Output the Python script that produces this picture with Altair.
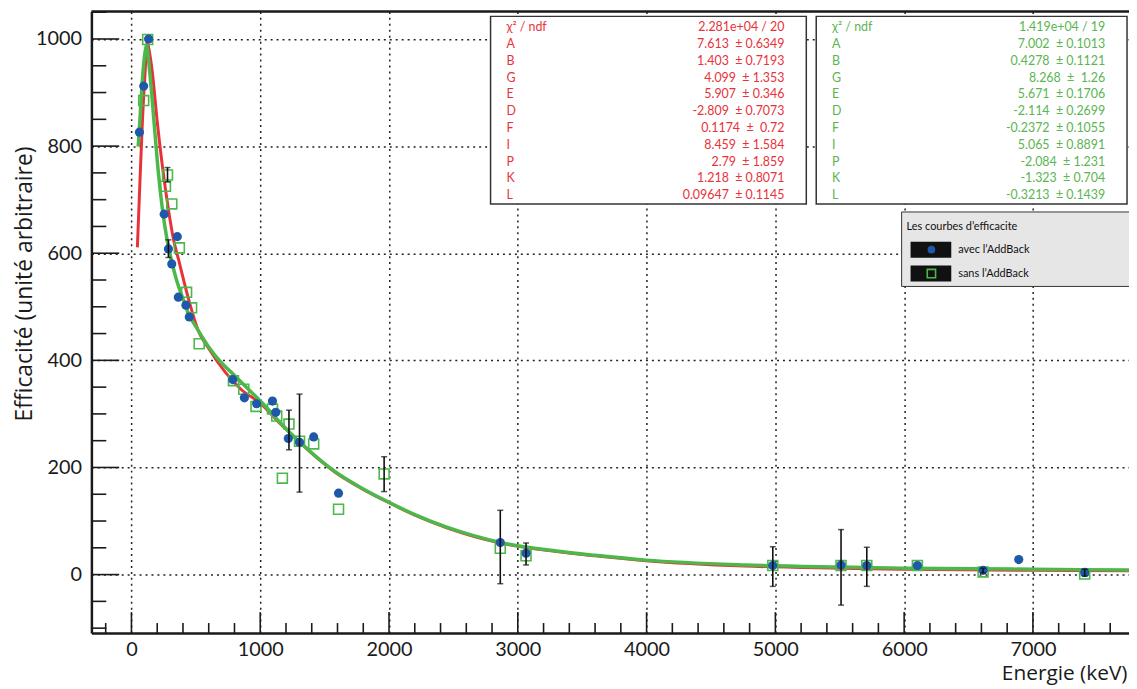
import altair as alt
import pandas as pd

# ---------------- data ----------------
avec_x = [62, 95, 133, 254, 287, 313, 356, 364, 423, 449, 787, 877, 972, 1095, 1121,
          1218, 1305, 1415, 1608, 2864, 3064, 4980, 5510, 5710, 6103, 6613, 6890, 7402]
avec_y = [826, 912, 1000, 673, 608, 580, 631, 518, 503, 481, 364, 330, 319, 324, 303,
          254, 247, 257, 152, 60, 40, 17, 18, 17, 17, 8, 28, 4]

sans_x = [95, 126, 264, 280, 313, 372, 428, 467, 526, 792, 872, 967, 1095, 1128, 1172,
          1223, 1305, 1415, 1608, 1962, 2864, 3064, 4980, 5510, 5710, 6103, 6613, 7402]
sans_y = [885, 999, 725, 746, 692, 610, 527, 498, 431, 362, 346, 314, 309, 296, 180,
          281, 249, 244, 122, 188, 49, 35, 17, 17, 17, 17, 5, 1]

err_x = [280, 287, 1223, 1305, 1962, 2864, 3064, 4980, 5510, 5710, 6613, 7402]
err_lo = [733, 592, 233, 154, 155, -17, 18, -22, -57, -22, 3, -3]
err_hi = [760, 625, 307, 337, 220, 120, 59, 52, 84, 51, 12, 10]

fit_avec_x = [46, 65, 85, 106, 123, 140, 162, 200, 239, 285, 329, 368, 410, 454, 518,
              600, 728, 850, 1010, 1150, 1293, 1450, 1576, 1800, 1992, 2200, 2454, 2864,
              3300, 3600, 3995, 4762, 5500, 6000, 7000, 7746]
fit_avec_y = [611, 728, 846, 938, 994, 975, 938, 846, 765, 685, 623, 586, 545, 505, 456,
              422, 378, 346, 318, 283, 250, 216, 192, 159, 135, 111, 87, 59,
              43, 35, 26, 16, 12, 10, 8, 7]

fit_sans_x = [52, 65, 80, 106, 116, 142, 175, 208, 239, 278, 311, 350, 400, 444, 518,
              600, 700, 787, 900, 1018, 1150, 1300, 1450, 1576, 1800, 1992, 2200, 2454,
              2864, 3300, 3600, 3995, 4762, 5500, 6000, 7000, 7746]
fit_sans_y = [799, 846, 907, 976, 988, 938, 846, 753, 685, 623, 586, 550, 515, 487, 456,
              425, 395, 375, 348, 320, 285, 249, 217, 193, 160, 136, 112, 88,
              60, 44, 36, 27, 18, 14, 12, 10, 8.5]

x_major = [0, 1000, 2000, 3000, 4000, 5000, 6000, 7000]
x_minor = [v for v in range(-200, 7800, 200) if v % 1000 != 0]
y_major = [0, 200, 400, 600, 800, 1000]
y_minor = [v for v in range(-100, 1100, 50) if v % 200 != 0]

stat_labels = ["χ² / ndf", "A", "B", "G", "E", "D", "F", "I", "P", "K", "L"]
stat_avec = ["2.281e+04 / 20", "7.613 \u00a0± 0.6349", "1.403 \u00a0± 0.7193",
             "4.099 \u00a0± 1.353", "5.907 \u00a0± 0.346", "-2.809 \u00a0± 0.7073",
             "0.1174 \u00a0± \u00a00.72", "8.459 \u00a0± 1.584", "2.79 \u00a0± 1.859",
             "1.218 \u00a0± 0.8071", "0.09647 \u00a0± 0.1145"]
stat_sans = ["1.419e+04 / 19", "7.002 \u00a0± 0.1013", "0.4278 \u00a0± 0.1121",
             "8.268 \u00a0± \u00a01.26", "5.671 \u00a0± 0.1706", "-2.114 \u00a0± 0.2699",
             "-0.2372 \u00a0± 0.1055", "5.065 \u00a0± 0.8891", "-2.084 \u00a0± 1.231",
             "-1.323 \u00a0± 0.704", "-0.3213 \u00a0± 0.1439"]

legend_title = "Les courbes d’efficacite"
legend_avec = "avec l’AddBack"
legend_sans = "sans l’AddBack"

# ---------------- styling ----------------
FONT = "Lato"
TFONT = "Open Sans"
RED = "#e8323a"
GREEN = "#4cb84a"
BLUE = "#1f58a8"
TXT_GREEN = "#5ab552"
DARK = "#1a1a1a"
W, H = 1045, 626

xs = alt.Scale(domain=[-311, 7746], nice=False, zero=False)
ys = alt.Scale(domain=[-109, 1051.5], nice=False, zero=False)

x_axis = alt.Axis(values=x_major, format="d", grid=True, gridDash=[2, 4], gridColor="#222",
                  gridWidth=1.5, ticks=False, domain=True, domainColor=DARK,
                  domainWidth=2.5, labelFont=FONT, labelFontSize=20, labelColor=DARK,
                  labelPadding=7, labelOverlap=False, labelFlush=False,
                  title="Energie (keV)", titleFont=TFONT, titleFontSize=21,
                  titleFontWeight="normal", titleColor=DARK, titleX=1043, titleY=41,
                  titleAlign="right", titleBaseline="middle")
y_axis = alt.Axis(values=y_major, format="d", grid=True, gridDash=[2, 4], gridColor="#222",
                  gridWidth=1.5, ticks=False, domain=True, domainColor=DARK,
                  domainWidth=2.5, labelFont=FONT, labelFontSize=20, labelColor=DARK,
                  labelPadding=10, labelOverlap=False, labelFlush=False,
                  title="Efficacité (unité arbitraire)", titleFont=TFONT,
                  titleFontSize=23, titleFontWeight="normal", titleColor=DARK,
                  titleAngle=270, titleX=-67, titleY=274, titleAlign="center",
                  titleBaseline="middle")

df_fa = pd.DataFrame({"x": fit_avec_x, "y": fit_avec_y})
df_fs = pd.DataFrame({"x": fit_sans_x, "y": fit_sans_y})
df_a = pd.DataFrame({"x": avec_x, "y": avec_y})
df_s = pd.DataFrame({"x": sans_x, "y": sans_y})
df_e = pd.DataFrame({"x": err_x, "lo": err_lo, "hi": err_hi})
df_caps = pd.DataFrame({"x": err_x + err_x, "y": err_lo + err_hi})


def X(f="x"):
    return alt.X(f"{f}:Q", scale=xs, axis=x_axis)


def Y(f="y"):
    return alt.Y(f"{f}:Q", scale=ys, axis=y_axis)


red_curve = alt.Chart(df_fa).mark_line(color=RED, strokeWidth=3, interpolate="monotone").encode(
    x=X(), y=Y(), order="x:Q")
green_curve = alt.Chart(df_fs).mark_line(color=GREEN, strokeWidth=3.5, interpolate="monotone").encode(
    x=X(), y=Y(), order="x:Q")
squares = alt.Chart(df_s).mark_point(shape="square", filled=False, color=GREEN,
                                     size=100, strokeWidth=1.6, opacity=1).encode(x=X(), y=Y())
circles = alt.Chart(df_a).mark_circle(color=BLUE, size=85, opacity=1).encode(x=X(), y=Y())
err_bars = alt.Chart(df_e).mark_rule(color="#111", strokeWidth=1.6).encode(
    x=X(), y=Y("lo"), y2="hi:Q")
err_caps = alt.Chart(df_caps).mark_tick(color="#111", orient="horizontal", size=6,
                                        thickness=1.5).encode(x=X(), y=Y())

# inner ticks (ROOT style)
ymaj = alt.Chart(pd.DataFrame({"v": y_major})).mark_rule(color=DARK, strokeWidth=1.6).encode(
    y=Y("v"), x=alt.value(0), x2=alt.value(28))
ymin = alt.Chart(pd.DataFrame({"v": y_minor})).mark_rule(color=DARK, strokeWidth=1.6).encode(
    y=Y("v"), x=alt.value(0), x2=alt.value(15))
xmaj = alt.Chart(pd.DataFrame({"v": x_major})).mark_rule(color=DARK, strokeWidth=1.6).encode(
    x=X("v"), y=alt.value(H), y2=alt.value(H - 21))
xmin = alt.Chart(pd.DataFrame({"v": x_minor})).mark_rule(color=DARK, strokeWidth=1.6).encode(
    x=X("v"), y=alt.value(H), y2=alt.value(H - 10))
top_line = alt.Chart(pd.DataFrame({"v": [0]})).mark_rule(color=DARK, strokeWidth=2.5).encode(
    x=alt.value(0), x2=alt.value(W), y=alt.value(0))


# stats boxes
def stat_box(x0, x1, values, color):
    box = alt.Chart(pd.DataFrame({"v": [0]})).mark_rect(
        fill="white", stroke="#333", strokeWidth=1.5).encode(
        x=alt.value(x0), x2=alt.value(x1), y=alt.value(5), y2=alt.value(194))
    df = pd.DataFrame({"label": stat_labels, "val": values, "i": list(range(len(values)))})
    base = alt.Chart(df).transform_calculate(py="16 + datum.i * 16.9")
    labs = base.mark_text(align="left", baseline="middle", font=FONT, fontSize=12.5,
                          color=color).encode(
        x=alt.value(x0 + 16), y=alt.Y("py:Q", scale=None, axis=None), text="label:N")
    vals = base.mark_text(align="right", baseline="middle", font=FONT, fontSize=12.5,
                          color=color).encode(
        x=alt.value(x1 - 22), y=alt.Y("py:Q", scale=None, axis=None), text="val:N")
    return [box, labs, vals]


box1 = stat_box(402, 720, stat_avec, RED)
box2 = stat_box(730, 1043, stat_sans, TXT_GREEN)

# legend box
one = pd.DataFrame({"v": [0]})
leg_bg = alt.Chart(one).mark_rect(fill="#e6e6e6", stroke="#333", strokeWidth=1).encode(
    x=alt.value(816), x2=alt.value(1046), y=alt.value(202), y2=alt.value(277))
leg_title = alt.Chart(one).mark_text(align="left", baseline="middle", font=FONT,
                                     fontSize=11, color="#111", text=legend_title).encode(
    x=alt.value(821), y=alt.value(217))
leg_r1 = alt.Chart(one).mark_rect(fill="#111").encode(
    x=alt.value(825), x2=alt.value(866), y=alt.value(232), y2=alt.value(248))
leg_r2 = alt.Chart(one).mark_rect(fill="#111").encode(
    x=alt.value(825), x2=alt.value(866), y=alt.value(256), y2=alt.value(272))
leg_c = alt.Chart(one).mark_circle(color=BLUE, size=60, opacity=1).encode(
    x=alt.value(846), y=alt.value(240))
leg_s = alt.Chart(one).mark_point(shape="square", filled=False, color=GREEN, size=70,
                                  strokeWidth=1.6, opacity=1).encode(
    x=alt.value(846), y=alt.value(264))
leg_t1 = alt.Chart(one).mark_text(align="left", baseline="middle", font=FONT, fontSize=11,
                                  color="#111", text=legend_avec).encode(
    x=alt.value(873), y=alt.value(240))
leg_t2 = alt.Chart(one).mark_text(align="left", baseline="middle", font=FONT, fontSize=11,
                                  color="#111", text=legend_sans).encode(
    x=alt.value(873), y=alt.value(264))

chart = alt.layer(
    red_curve, green_curve, squares, circles, err_bars, err_caps,
    ymaj, ymin, xmaj, xmin, top_line,
    *box1, *box2,
    leg_bg, leg_title, leg_r1, leg_r2, leg_c, leg_s, leg_t1, leg_t2,
).properties(
    width=W, height=H,
    padding={"left": 84, "top": 1, "right": 0, "bottom": 54},
    autosize=alt.AutoSizeParams(type="none"),
).configure_view(stroke=None).configure(background="white")

chart.save("out.html", embed_options={"renderer": "svg", "actions": False})
